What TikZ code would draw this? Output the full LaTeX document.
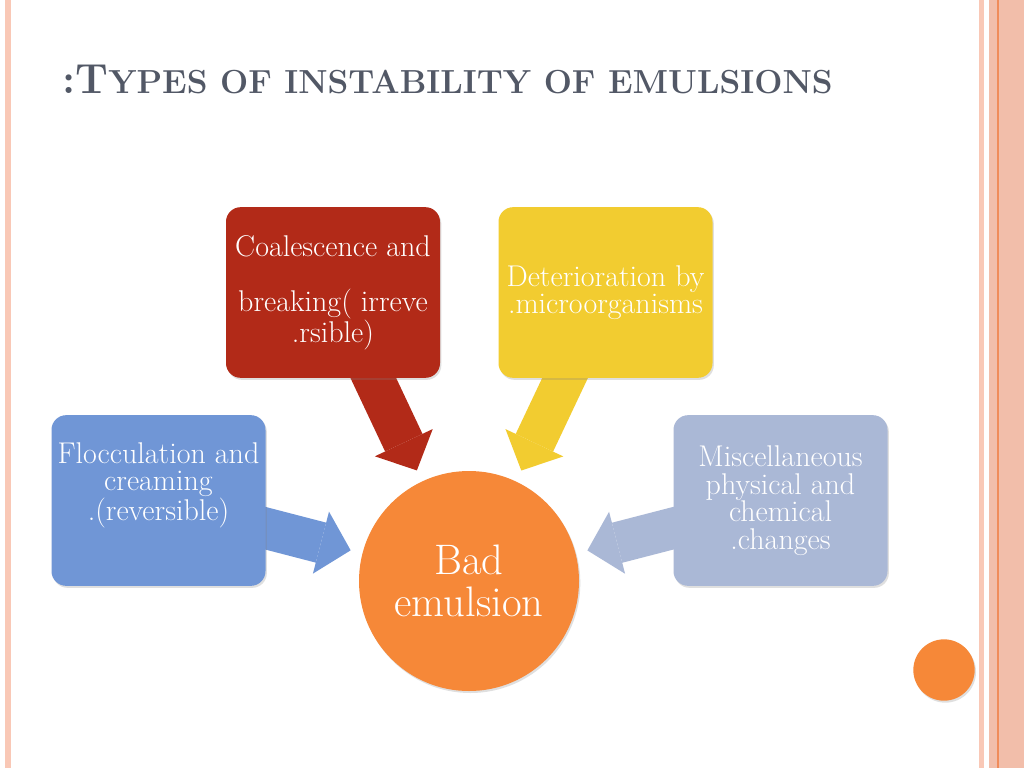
\documentclass[tikz,border=0pt]{standalone}
\usepackage{fontspec}
\usepackage{tikz}
\usetikzlibrary{arrows.meta, backgrounds, shadows}

\definecolor{titlegrey}{RGB}{82,88,102}
\definecolor{coalred}{RGB}{178,42,24}
\definecolor{detyellow}{RGB}{242,204,48}
\definecolor{floccblue}{RGB}{112,150,214}
\definecolor{miscgrey}{RGB}{170,184,214}
\definecolor{badorange}{RGB}{246,136,56}
\definecolor{edgepeach}{RGB}{242,190,170}
\definecolor{edgelight}{RGB}{249,200,182}
\definecolor{edgeline}{RGB}{240,140,90}

\begin{document}
\begin{tikzpicture}[x=0.75pt, y=-0.75pt,
    box/.style={rounded corners=11pt, minimum width=160.5pt, minimum height=128pt,
        align=center, text=white, font=\fontsize{22.5}{20.6}\selectfont,
        drop shadow={shadow xshift=1pt, shadow yshift=-1.5pt, opacity=0.25}},
    feed/.style={line width=31pt, -{Triangle[length=23pt, width=48pt, line width=0pt]},
        shorten >=9pt}]
    \useasboundingbox (0, 0) rectangle (1024, 768);

    % title
    \node[anchor=base west, inner sep=0, text=titlegrey, font=\bfseries] (title) at (62, 93)
        {\fontsize{31.5}{31.5}\selectfont :T\fontsize{25}{25}\selectfont YPES OF INSTABILITY OF EMULSIONS};

    % the four causes
    \node[box, fill=coalred] (coal) at (333, 292.5)
        {Coalescence and\\ \mbox{}\\ breaking( irreve\\ .rsible)};
    \node[box, fill=detyellow] (deter) at (605.5, 292.5)
        {Deterioration by\\ .microorganisms};
    \node[box, fill=floccblue] (flocc) at (158.5, 500.5)
        {Flocculation and\\ creaming\\ .(reversible)\\ \rule[-7.5pt]{0pt}{7.5pt}};
    \node[box, fill=miscgrey] (misc) at (780.5, 500.5)
        {Miscellaneous\\ physical and\\ chemical\\ .changes};

    % result
    \node[circle, fill=badorange, minimum size=165pt, inner sep=0, align=center, text=white,
        font=\fontsize{32}{31}\selectfont,
        drop shadow={shadow xshift=1pt, shadow yshift=-1.5pt, opacity=0.25}] (bad) at (469, 581)
        {Bad\\ emulsion};

    % corner dot
    \fill[badorange, drop shadow={shadow xshift=1pt, shadow yshift=-1.5pt, opacity=0.25}]
        (944, 670) circle (23pt);

    \begin{scope}[on background layer]
        % page and side strips
        \fill[white] (0, 0) rectangle (1024, 768);
        \fill[edgelight] (5, 0) rectangle (11, 768);
        \fill[edgelight] (979, 0) rectangle (984, 768);
        \fill[edgepeach] (989, 0) rectangle (1024, 768);
        \draw[edgeline, line width=0.8pt] (998, 0) -- (998, 768);

        % block arrows into the circle
        \draw[feed, coalred] (coal.center) -- (bad);
        \draw[feed, detyellow] (deter.center) -- (bad);
        \draw[feed, floccblue] (flocc.center) -- (bad);
        \draw[feed, miscgrey] (misc.center) -- (bad);
    \end{scope}
\end{tikzpicture}
\end{document}
